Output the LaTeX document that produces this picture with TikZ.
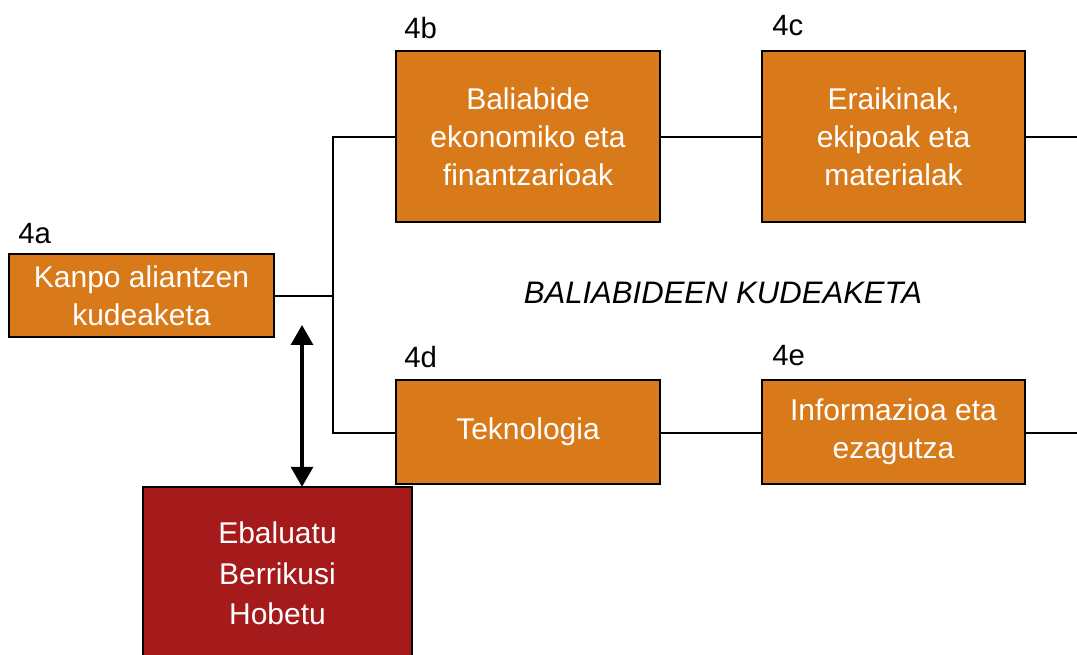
\documentclass[tikz,border=0pt]{standalone}
\usepackage{fontspec}
\setmainfont{Liberation Sans}
\usetikzlibrary{arrows.meta}
\definecolor{boxorange}{RGB}{217,122,26}
\definecolor{boxred}{RGB}{165,26,27}
\begin{document}
\begin{tikzpicture}[x=0.75pt,y=-0.75pt,
  stage/.style={draw=black, line width=1.5pt, fill=boxorange, text=white,
    align=center, inner sep=0pt, outer sep=0pt,
    font=\fontsize{22.5}{28.5}\selectfont},
  tag/.style={anchor=base west, inner sep=0pt, font=\fontsize{22}{26}\selectfont},
  link/.style={draw=black, line width=1.2pt}]
\useasboundingbox (0,0) rectangle (1077,655);

% process boxes
\node[stage, minimum width=198.75pt, minimum height=62.25pt] (a) at (141.5,295.5)
  {Kanpo aliantzen\\kudeaketa};
\node[stage, minimum width=198pt, minimum height=128.25pt] (b) at (528,136.5)
  {Baliabide\\ekonomiko eta\\finantzarioak};
\node[stage, minimum width=197.25pt, minimum height=128.25pt] (c) at (893.5,136.5)
  {Eraikinak,\\ekipoak eta\\materialak};
\node[stage, minimum width=198pt, minimum height=78pt] (d) at (528,432)
  {\raisebox{-2pt}{Teknologia}};
\node[stage, minimum width=197.25pt, minimum height=78pt] (e) at (893.5,432)
  {Informazioa eta\\ezagutza};

% labels above the boxes
\node[tag] (la) at (18,244) {4a};
\node[tag] (lb) at (404,39) {4b};
\node[tag] (lc) at (772,36) {4c};
\node[tag] (ld) at (404,368) {4d};
\node[tag] (le) at (772,366) {4e};

\node[font=\fontsize{23.3}{26}\selectfont\itshape, inner sep=0pt] (title) at (723,293)
  {BALIABIDEEN KUDEAKETA};

% branching connectors
\coordinate (ja) at (333,296);
\coordinate (jb) at (333,137);
\coordinate (jd) at (333,433);
\coordinate (rc) at (1077,137);
\coordinate (re) at (1077,433);
\draw[link] (a.east |- ja) -- (ja);
\draw[link] (b.west |- jb) -- (jb) -- (jd) -- (d.west |- jd);
\draw[link] (b.east |- jb) -- (c.west |- jb);
\draw[link] (c.east |- rc) -- (rc);
\draw[link] (d.east |- jd) -- (e.west |- jd);
\draw[link] (e.east |- re) -- (re);

% review box
\node[draw=black, line width=1.5pt, fill=boxred, text=white, align=center,
  inner sep=0pt, outer sep=0pt, minimum width=201.75pt, minimum height=130pt,
  font=\fontsize{22.5}{30.5}\selectfont] (r) at (277.5,573.5)
  {Ebaluatu\\Berrikusi\\Hobetu};

% two-way arrow
\coordinate (at) at (302,325);
\draw[line width=2.4pt, {Triangle[length=15pt,width=16.5pt]}-{Triangle[length=15pt,width=16.5pt]}]
  (at) -- (at |- r.north);
\end{tikzpicture}
\end{document}
